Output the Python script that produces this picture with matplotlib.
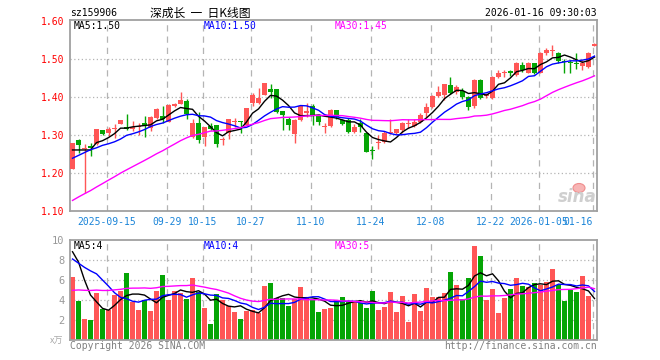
import numpy as np
import matplotlib
matplotlib.use("Agg")
import matplotlib.pyplot as plt
from matplotlib.patches import Ellipse

# ---------------- data ----------------
open_ = [1.211, 1.287, 1.264, 1.270, 1.276, 1.313, 1.306, 1.315, 1.329, 1.322,
         1.317, 1.320, 1.331, 1.318, 1.344, 1.350, 1.335, 1.376, 1.382, 1.390,
         1.296, 1.331, 1.296, 1.324, 1.326, 1.286, 1.305, 1.333, 1.337, 1.326,
         1.383, 1.384, 1.405, 1.420, 1.421, 1.362, 1.341, 1.303, 1.339, 1.359,
         1.376, 1.353, 1.320, 1.324, 1.365, 1.339, 1.339, 1.309, 1.331, 1.304,
         1.261, 1.278, 1.282, 1.304, 1.304, 1.313, 1.329, 1.324, 1.335, 1.359,
         1.374, 1.403, 1.405, 1.432, 1.414, 1.417, 1.401, 1.376, 1.445, 1.402,
         1.398, 1.453, 1.463, 1.469, 1.458, 1.485, 1.464, 1.489, 1.464, 1.515,
         1.521, 1.515, 1.495, 1.492, 1.490, 1.481, 1.480, 1.534]
high = [1.280, 1.289, 1.277, 1.280, 1.316, 1.313, 1.322, 1.329, 1.340, 1.354,
        1.338, 1.331, 1.350, 1.349, 1.370, 1.376, 1.381, 1.385, 1.413, 1.394,
        1.341, 1.360, 1.322, 1.331, 1.326, 1.296, 1.343, 1.346, 1.338, 1.371,
        1.410, 1.423, 1.437, 1.434, 1.422, 1.363, 1.348, 1.341, 1.378, 1.383,
        1.381, 1.355, 1.331, 1.368, 1.366, 1.342, 1.345, 1.329, 1.341, 1.306,
        1.271, 1.300, 1.310, 1.343, 1.317, 1.334, 1.341, 1.343, 1.358, 1.383,
        1.405, 1.429, 1.435, 1.453, 1.432, 1.424, 1.403, 1.447, 1.447, 1.410,
        1.455, 1.472, 1.472, 1.472, 1.491, 1.493, 1.491, 1.490, 1.519, 1.528,
        1.537, 1.519, 1.500, 1.498, 1.515, 1.498, 1.519, 1.542]
low = [1.210, 1.252, 1.148, 1.245, 1.274, 1.300, 1.297, 1.291, 1.329, 1.313,
       1.311, 1.300, 1.296, 1.311, 1.342, 1.332, 1.333, 1.374, 1.382, 1.343,
       1.291, 1.278, 1.271, 1.313, 1.269, 1.274, 1.289, 1.322, 1.306, 1.325,
       1.376, 1.382, 1.404, 1.397, 1.357, 1.313, 1.313, 1.280, 1.336, 1.348,
       1.326, 1.326, 1.306, 1.322, 1.341, 1.326, 1.305, 1.306, 1.308, 1.254,
       1.236, 1.262, 1.279, 1.303, 1.303, 1.306, 1.318, 1.321, 1.331, 1.348,
       1.372, 1.401, 1.392, 1.408, 1.408, 1.395, 1.366, 1.372, 1.395, 1.398,
       1.395, 1.451, 1.453, 1.455, 1.456, 1.465, 1.462, 1.460, 1.462, 1.511,
       1.507, 1.489, 1.462, 1.462, 1.473, 1.472, 1.476, 1.533]
close = [1.278, 1.274, 1.266, 1.267, 1.315, 1.303, 1.315, 1.318, 1.339, 1.315,
         1.320, 1.324, 1.327, 1.347, 1.368, 1.341, 1.379, 1.382, 1.392, 1.354,
         1.331, 1.287, 1.320, 1.317, 1.276, 1.289, 1.341, 1.336, 1.335, 1.370,
         1.405, 1.397, 1.436, 1.413, 1.361, 1.352, 1.326, 1.339, 1.376, 1.362,
         1.353, 1.333, 1.323, 1.365, 1.348, 1.329, 1.308, 1.322, 1.322, 1.256,
         1.259, 1.281, 1.304, 1.308, 1.315, 1.332, 1.331, 1.335, 1.353, 1.374,
         1.403, 1.414, 1.434, 1.411, 1.426, 1.401, 1.374, 1.445, 1.397, 1.408,
         1.453, 1.464, 1.465, 1.462, 1.489, 1.470, 1.489, 1.462, 1.517, 1.524,
         1.523, 1.495, 1.493, 1.490, 1.488, 1.490, 1.517, 1.540]
volume = [6.33, 3.93, 2.10, 2.00, 4.73, 3.07, 3.00, 4.50, 4.90, 6.73,
          3.83, 3.00, 4.00, 2.90, 4.90, 6.53, 4.00, 4.90, 4.67, 4.07,
          6.20, 4.80, 3.23, 1.60, 4.60, 4.05, 3.45, 2.85, 2.15, 2.90,
          3.00, 2.67, 5.40, 5.70, 4.17, 4.17, 3.40, 4.07, 5.27, 4.27,
          4.07, 2.77, 3.07, 3.23, 4.00, 4.30, 3.83, 3.83, 3.70, 3.23,
          4.93, 3.00, 3.30, 4.80, 2.80, 4.40, 1.80, 4.60, 2.90, 5.20,
          4.30, 4.30, 4.70, 6.80, 5.50, 4.10, 6.20, 9.40, 8.40, 4.00,
          5.10, 2.70, 4.20, 5.10, 6.20, 5.40, 5.30, 5.70, 5.50, 5.80,
          7.10, 5.50, 3.90, 5.03, 4.80, 6.40, 4.40, 0.10]
# sessions before the visible window (estimated from where the MA lines start)
prior_close = [1.000, 1.010, 1.020, 1.030, 1.035, 1.040, 1.050, 1.055, 1.060, 1.070,
               1.075, 1.080, 1.090, 1.100, 1.105, 1.110, 1.120, 1.125, 1.130, 1.140,
               1.199, 1.191, 1.192, 1.265, 1.238, 1.274, 1.266, 1.267, 1.218]
prior_volume = [2.8, 3.1, 2.5, 3.6, 4.2, 3.0, 2.7, 3.3, 3.9, 3.1,
                2.9, 3.5, 4.1, 3.2, 2.8, 3.4, 3.8, 3.6, 4.0, 4.5,
                8.1, 6.3, 5.5, 7.7, 9.27, 9.1, 11.1, 9.5, 8.1]
tick_idx = [6, 16, 22, 30, 40, 50, 60, 70, 78, 87]
tick_labels = ["2025-09-15", "09-29", "10-15", "10-27", "11-10", "11-24",
               "12-08", "12-22", "2026-01-05", "01-16"]
price_ticks = [1.10, 1.20, 1.30, 1.40, 1.50, 1.60]
vol_ticks = [2, 4, 6, 8, 10]
price_ma_text = ["MA5:1.50", "MA10:1.50", "MA30:1.45"]
vol_ma_text = ["MA5:4", "MA10:4", "MA30:5"]

# ---------------- helpers ----------------
W, H = 660, 360
def fx(px): return px / W
def fy(py): return 1 - py / H

RED = "#ff5656"
GREEN = "#05a505"
GRID = "#b4b4b4"
SPINE = "#a0a0a0"
MONO = "DejaVu Sans Mono"
CJK = ["Noto Sans CJK SC", "DejaVu Sans"]

def ma(full, n, k):
    s = np.convolve(full, np.ones(n) / n, mode="valid")
    return s[-k:]

o = np.array(open_); h = np.array(high); l = np.array(low); c = np.array(close)
v = np.array(volume)
n = len(c)
x = np.arange(n)
cf = np.concatenate([prior_close, c])
vf = np.concatenate([prior_volume, v])
up = c >= o
cols = np.where(up, RED, GREEN)

fig = plt.figure(figsize=(6.6, 3.6), dpi=100)
fig.patch.set_facecolor("white")

ax = fig.add_axes([fx(70), fy(211), 527 / W, 191 / H])
axv = fig.add_axes([fx(70), fy(340), 527 / W, 100 / H])

xl = (-0.42, n - 1 + 0.42)
for a in (ax, axv):
    a.set_xlim(*xl)
    for s in a.spines.values():
        s.set_color(SPINE); s.set_linewidth(1.3)
    for t in tick_idx:
        a.axvline(t - 0.3, color=GRID, lw=0.9, ls=(0, (5, 4)), zorder=0)

# price panel
ax.set_ylim(1.10, 1.6026)
for p in price_ticks[1:-1]:
    ax.axhline(p, color=GRID, lw=0.9, ls=(0, (1, 2)), zorder=0)
ax.vlines(x, l, h, colors=cols, lw=1.0, zorder=2)
body_lo = np.minimum(o, c)
body_h = np.maximum(np.abs(c - o), 0.0027)
ax.bar(x, body_h, bottom=body_lo, width=0.8, color=cols, lw=0, zorder=3)
ax.plot(x, ma(cf, 5, n), color="black", lw=1.0, zorder=4)
ax.plot(x, ma(cf, 10, n), color="#0000ff", lw=1.0, zorder=4)
ax.plot(x, ma(cf, 30, n), color="#ff00ff", lw=1.0, zorder=4)

ax.set_yticks(price_ticks)
ax.set_yticklabels([f"{p:.2f}" for p in price_ticks], color="#ff0000",
                   family=MONO, fontsize=7)
ax.set_xticks([t - 0.3 for t in tick_idx])
ax.set_xticklabels(tick_labels, color="#1a84d8", family=MONO, fontsize=7)
ax.tick_params(axis="both", length=0)
ax.tick_params(axis="y", pad=4)
ax.tick_params(axis="x", pad=4)
ax.get_xticklabels()[-1].set_ha("right")

# volume panel
axv.set_ylim(0, 10)
for p in vol_ticks[:-1]:
    axv.axhline(p, color=GRID, lw=0.9, ls=(0, (1, 2)), zorder=0)
axv.bar(x, v, width=0.83, color=cols, lw=0, zorder=2)
axv.plot(x, ma(vf, 5, n), color="black", lw=1.0, zorder=4)
axv.plot(x, ma(vf, 10, n), color="#0000ff", lw=1.0, zorder=4)
axv.plot(x, ma(vf, 30, n), color="#ff00ff", lw=1.0, zorder=4)
axv.set_yticks(vol_ticks)
axv.set_yticklabels([str(t) for t in vol_ticks], color="#999999",
                    family=MONO, fontsize=7.5)
axv.set_xticks([])
axv.tick_params(axis="both", length=0)
axv.tick_params(axis="y", pad=4)

# texts
fig.text(fx(70), fy(13), "sz159906", family=MONO, fontsize=7, va="center", color="black")
fig.text(fx(150), fy(13), "深成长  一  日K线图", family=CJK, fontsize=8.5, va="center",
         color="black")
fig.text(fx(597), fy(13), "2026-01-16 09:30:03", family=MONO, fontsize=7, va="center",
         ha="right", color="black")
for txt, px, col in zip(price_ma_text, [74, 204, 335], ["black", "#0000ff", "#ff00ff"]):
    fig.text(fx(px), fy(26), txt, family=MONO, fontsize=7, va="center", color=col)
for txt, px, col in zip(vol_ma_text, [74, 204, 335], ["black", "#0000ff", "#ff00ff"]):
    fig.text(fx(px), fy(246), txt, family=MONO, fontsize=7, va="center", color=col)
fig.text(fx(70), fy(346), "Copyright 2026 SINA.COM", family=MONO, fontsize=7,
         va="center", color="#808080")
fig.text(fx(597), fy(346), "http://finance.sina.com.cn", family=MONO, fontsize=7,
         va="center", ha="right", color="#808080")
fig.text(fx(63), fy(341), "x万", family=CJK, fontsize=6.5, va="center", ha="right",
         color="#aaaaaa")

# sina watermark
fig.text(fx(597), fy(197), "sina", family="DejaVu Sans", fontsize=12, style="italic",
         weight="bold", va="center", ha="right", color="#cfcfcf", zorder=1)
fig.patches.append(Ellipse((fx(579), fy(188)), 12 / W, 9 / H, transform=fig.transFigure,
                           facecolor="#f7b5b5", edgecolor="#f08c8c", lw=0.8, zorder=1))

fig.savefig("out.png", dpi=100)
